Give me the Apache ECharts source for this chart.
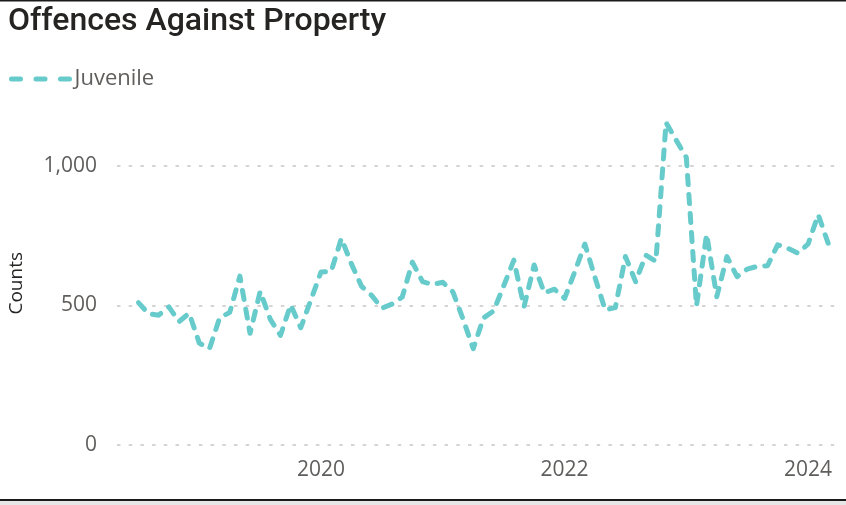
<!DOCTYPE html>
<html>
<head>
<meta charset="utf-8">
<title>Offences Against Property</title>
<script src="https://cdn.jsdelivr.net/npm/echarts@6/dist/echarts.min.js"></script>
<style>
  html, body { margin: 0; padding: 0; background: #ffffff; }
  #chart { width: 846px; height: 505px; }
</style>
</head>
<body>
<div id="chart"></div>
<script>
// Monthly juvenile counts of offences against property
const months = [
  '2018-07','2018-08','2018-09','2018-10','2018-11','2018-12',
  '2019-01','2019-02','2019-03','2019-04','2019-05','2019-06',
  '2019-07','2019-08','2019-09','2019-10','2019-11','2019-12',
  '2020-01','2020-02','2020-03','2020-04','2020-05','2020-06',
  '2020-07','2020-08','2020-09','2020-10','2020-11','2020-12',
  '2021-01','2021-02','2021-03','2021-04','2021-05','2021-06',
  '2021-07','2021-08','2021-09','2021-10','2021-11','2021-12',
  '2022-01','2022-02','2022-03','2022-04','2022-05','2022-06',
  '2022-07','2022-08','2022-09','2022-10','2022-11','2022-12',
  '2023-01','2023-02','2023-03','2023-04','2023-05','2023-06',
  '2023-07','2023-08','2023-09','2023-10','2023-11','2023-12',
  '2024-01','2024-02','2024-03'
];
const juvenile = [
  510, 470, 465, 495, 442, 472,
  365, 345, 455, 475, 605, 400,
  550, 450, 393, 502, 420, 520,
  620, 622, 740, 648, 568, 535,
  490, 505, 530, 655, 585, 575,
  583, 548, 450, 345, 455, 480,
  570, 662, 495, 645, 545, 558,
  525, 620, 720, 600, 484, 492,
  675, 585, 680, 658, 1155, 1092,
  1030, 498, 755, 531, 675, 603,
  630, 640, 642, 717, 705, 687,
  720, 825, 720
];
const yearTicks = [2020, 2022, 2024];
const countTicks = [0, 500, 1000];

// position each month on a continuous year scale
function toYear(ym) {
  const [y, m] = ym.split('-').map(Number);
  return y + (m - 1) / 12;
}
const seriesData = months.map((ym, i) => [toYear(ym), juvenile[i]]);

const labelFont = '"Open Sans", "Noto Sans", sans-serif';
const teal = '#66CBCA';

const chart = echarts.init(document.getElementById('chart'), null, { renderer: 'canvas' });
chart.setOption({
  animation: false,
  backgroundColor: '#ffffff',
  title: {
    text: 'Offences Against Property',
    left: 8,
    top: 6,
    padding: 0,
    textStyle: {
      fontFamily: 'Roboto, "DejaVu Sans", sans-serif',
      fontSize: 32,
      fontWeight: 500,
      color: '#252423'
    }
  },
  legend: {
    data: ['Juvenile'],
    left: 9,
    top: 68,
    padding: 0,
    itemWidth: 58,
    itemHeight: 14,
    itemStyle: { opacity: 0 },
    lineStyle: { type: [9, 15.5], width: 5, cap: 'round' },
    textStyle: { fontFamily: labelFont, fontSize: 22, color: '#605E5C' }
  },
  grid: { left: 117, right: 6, top: 110, bottom: 60 },
  xAxis: {
    type: 'value',
    min: 2018.324,
    max: 2024.262,
    axisLine: { show: false },
    axisTick: { show: false },
    splitLine: { show: false },
    axisLabel: {
      customValues: yearTicks,
      formatter: v => String(Math.round(v)),
      margin: 15,
      fontFamily: labelFont,
      fontSize: 21,
      color: '#605E5C'
    }
  },
  yAxis: {
    type: 'value',
    min: 0,
    max: 1200,
    interval: 500,
    axisLine: { show: false },
    axisTick: { show: false },
    axisLabel: {
      customValues: countTicks,
      formatter: v => v.toLocaleString('en-US'),
      margin: 20,
      fontFamily: labelFont,
      fontSize: 21,
      color: '#605E5C'
    },
    splitLine: {
      show: true,
      showMaxLine: false,
      lineStyle: { color: '#C8C6C4', width: 1.5, type: [3.5, 8.2] }
    }
  },
  graphic: [
    {
      type: 'text',
      left: 7,
      top: 252,
      rotation: Math.PI / 2,
      style: {
        text: 'Counts',
        fontFamily: labelFont,
        fontSize: 19,
        fill: '#252423'
      }
    },
    { type: 'rect', shape: { x: 0, y: 0, width: 846, height: 1.5 }, style: { fill: '#1a1a1a' } },
    { type: 'rect', shape: { x: 0, y: 499, width: 846, height: 2 }, style: { fill: '#1a1a1a' } },
    { type: 'rect', shape: { x: 0, y: 501, width: 846, height: 4 }, style: { fill: '#e6e6e6' } }
  ],
  series: [{
    name: 'Juvenile',
    type: 'line',
    data: seriesData,
    showSymbol: false,
    symbol: 'none',
    lineStyle: { color: teal, width: 5, type: [9, 10], cap: 'round', join: 'round' },
    itemStyle: { color: teal }
  }]
});
</script>
</body>
</html>
